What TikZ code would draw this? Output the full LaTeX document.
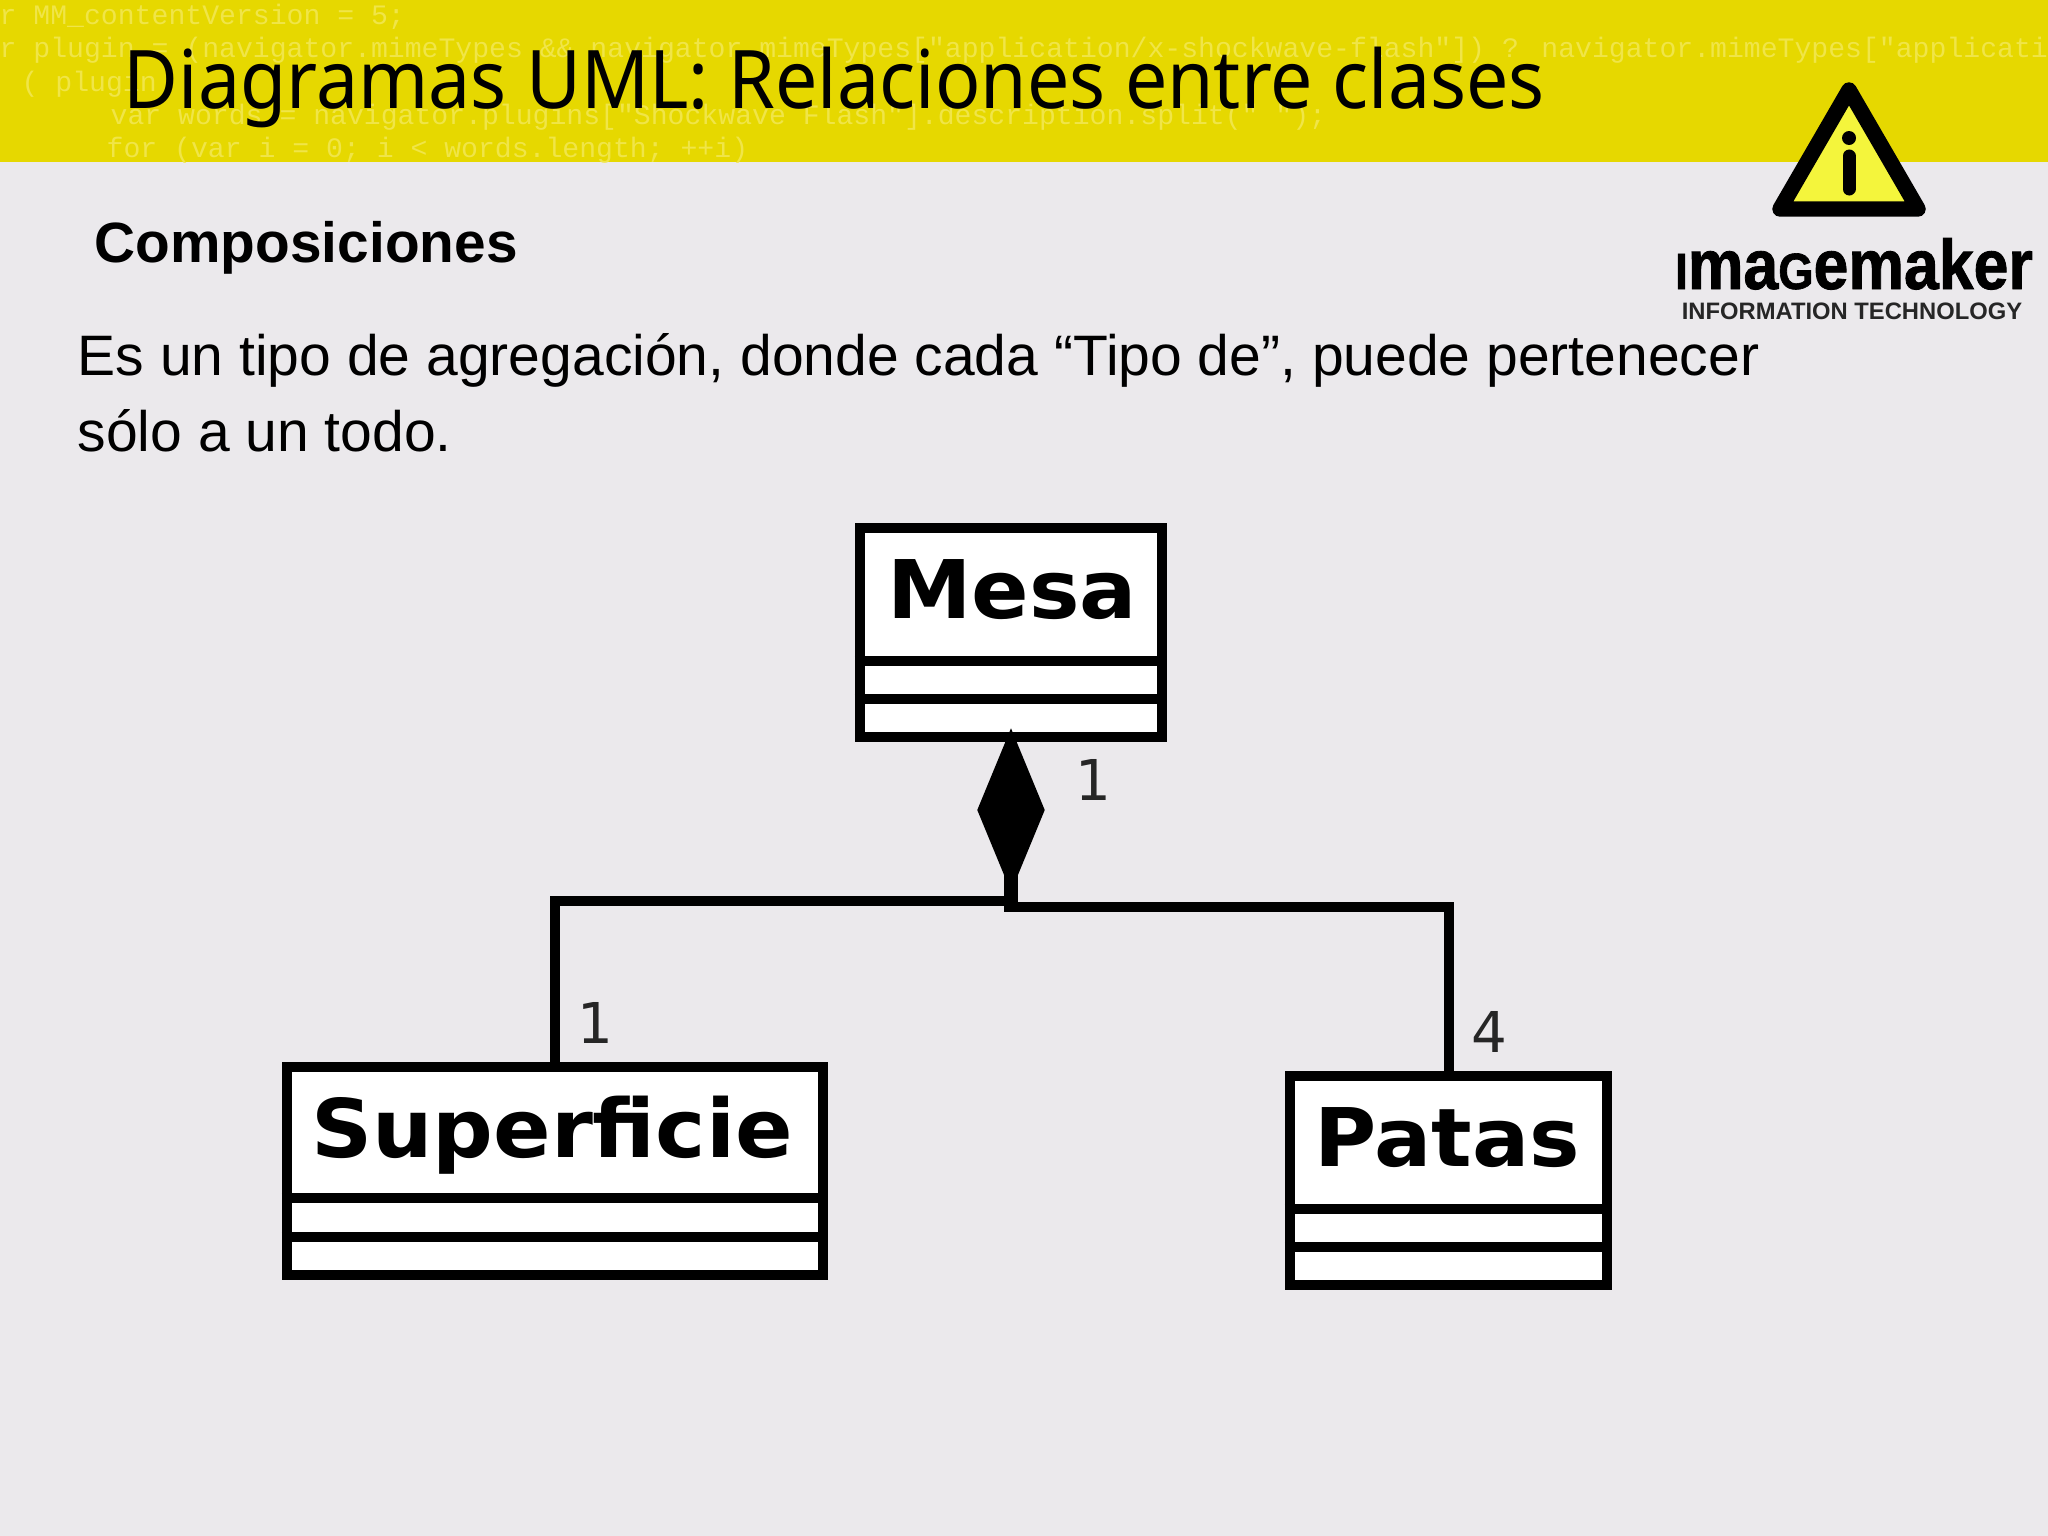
\documentclass[tikz,border=0pt]{standalone}
\usepackage{fontspec}
\usetikzlibrary{shapes.geometric}
\setmainfont{Liberation Sans}
\newfontfamily\titlefont[FakeStretch=0.93]{Noto Sans}
\newfontfamily\codefont{Liberation Mono}
\newfontfamily\umlfont[BoldFeatures={FakeStretch=1.05}]{DejaVu Sans}
\newfontfamily\logofont[FakeStretch=0.89,BoldFeatures={FakeBold=1.2}]{Liberation Sans}
\definecolor{slidebar}{HTML}{E6D800}
\definecolor{slidegrey}{HTML}{EBE9EC}
\definecolor{codetext}{HTML}{F0E548}
\definecolor{signfill}{HTML}{F4F53C}
\tikzset{
  codeline/.style={anchor=base west,inner sep=0,text=codetext,font=\codefont\fontsize{8}{10}\selectfont},
  umlbox/.style={draw=black,fill=white,line width=2.85pt,rectangle,inner sep=0,minimum height=2.09cm},
  umlline/.style={line width=2.85pt,draw=black},
  umlname/.style={anchor=base,inner sep=0,font=\umlfont\bfseries\fontsize{23}{26}\selectfont},
  umlcount/.style={anchor=base,inner sep=0,text=black!85,font=\umlfont\fontsize{16}{18}\selectfont},
}
\begin{document}
\begin{tikzpicture}[x=0.01cm,y=-0.01cm]
\useasboundingbox (0,0) rectangle (2048,1536);
\fill [slidegrey] (0,0) rectangle (2048,1536);
\fill [slidebar] (0,0) rectangle (2048,162);

% Code behind the title
\begin{scope}
\clip (0,0) rectangle (2048,162);
\draw (-1,24) node (code1) [codeline] {r MM\_contentVersion = 5;};
\draw (-1,57) node (code2) [codeline] {r plugin = (navigator.mimeTypes \&\& navigator.mimeTypes["application/x-shockwave-flash"]) ? navigator.mimeTypes["applicatio};
\draw (21,91) node (code3) [codeline] {( plugin};
\draw (110,124) node (code4) [codeline] {var words = navigator.plugins["Shockwave Flash"].description.split(" ");};
\draw (106,157) node (code5) [codeline] {for (var i = 0; i < words.length; ++i)};
\end{scope}

% Title and text
\draw (123,108) node (title) [anchor=base west,inner sep=0,font=\titlefont\fontsize{23}{26}\selectfont] {Diagramas UML: Relaciones entre clases};
\draw (94,262) node (subtitle) [anchor=base west,inner sep=0,font=\bfseries\fontsize{16.15}{19}\selectfont] {Composiciones};
\draw (77,375) node (line1) [anchor=base west,inner sep=0,font=\fontsize{16.22}{19}\selectfont] {Es un tipo de agregación, donde cada “Tipo de”, puede pertenecer};
\draw (77,451) node (line2) [anchor=base west,inner sep=0,font=\fontsize{16.22}{19}\selectfont] {sólo a un todo.};

% Logo sign
\draw [line width=4.4pt,line join=round,fill=signfill] (1849,90) -- (1780,209) -- (1918,209) -- cycle;
\fill (1849,138) circle (7);
\draw [line width=3.7pt,line cap=round] (1849,156) -- (1849,189);
\draw (1854,289) node (logoname) [anchor=base,inner sep=0,font=\logofont\bfseries\fontsize{20}{22}\selectfont] {{\fontsize{14.5}{16}\selectfont I}ma{\fontsize{14.5}{16}\selectfont G}emaker};
\draw (1852,319) node (logotag) [anchor=base,inner sep=0,text=black!85,font=\bfseries\fontsize{6.76}{8}\selectfont] {INFORMATION TECHNOLOGY};

% Class Mesa
\node (mesa) [umlbox,minimum width=3.02cm] at (1011,632.5) {};
\draw (1012,618) node (mesaname) [umlname] {Mesa};
\draw [umlline] (mesa.west |- 0,661) -- (mesa.east |- 0,661);
\draw [umlline] (mesa.west |- 0,699) -- (mesa.east |- 0,699);

% Class Superficie
\node (superficie) [umlbox,minimum width=5.36cm,minimum height=2.08cm] at (555,1171) {};
\draw (552,1157) node (superficiename) [umlname] {Superficie};
\draw [umlline] (superficie.west |- 0,1198) -- (superficie.east |- 0,1198);
\draw [umlline] (superficie.west |- 0,1237) -- (superficie.east |- 0,1237);

% Class Patas
\node (patas) [umlbox,minimum width=3.17cm] at (1448.5,1180.5) {};
\draw (1447,1166) node (patasname) [umlname] {Patas};
\draw [umlline] (patas.west |- 0,1209) -- (patas.east |- 0,1209);
\draw [umlline] (patas.west |- 0,1247) -- (patas.east |- 0,1247);

% Composition diamond and its links
\node (comp) [diamond,fill=black,inner sep=0,minimum width=0.68cm,minimum height=1.64cm] at (1011,810) {};
\coordinate (jointleft) at (1011,901);
\coordinate (jointright) at (1011,907);
\coordinate (trunkend) at (1011,912);
\draw [umlline,line width=4.2pt] (comp.center) -- (trunkend);
\draw [umlline] (superficie.north) |- (jointleft);
\draw [umlline] (patas.north) |- (jointright);

% Multiplicities
\draw (1093,800) node (countmesa) [umlcount] {1};
\draw (595,1043) node (countsuperficie) [umlcount] {1};
\draw (1489,1052) node (countpatas) [umlcount] {4};
\end{tikzpicture}
\end{document}
